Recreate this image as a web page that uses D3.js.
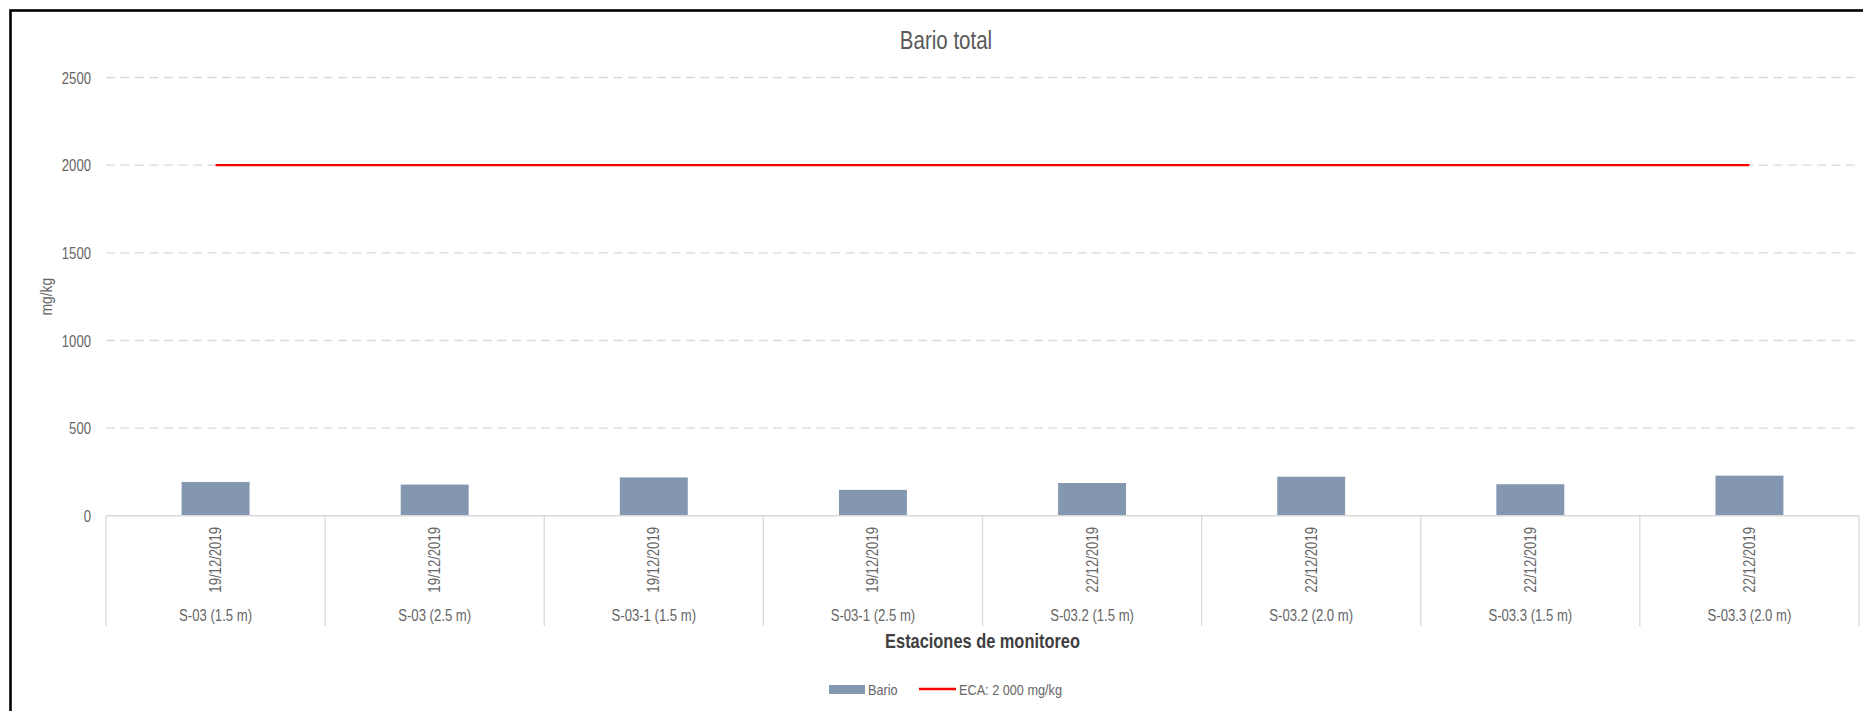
<!DOCTYPE html>
<html>
<head>
<meta charset="utf-8">
<script src="https://cdn.jsdelivr.net/npm/d3@7"></script>
<style>
  html, body { margin: 0; padding: 0; background: #fff; overflow: hidden; }
  svg { display: block; }
  text { font-family: "Liberation Sans", Arial, sans-serif; }
</style>
</head>
<body>
<svg id="chart" width="1863" height="711"></svg>
<script>
// Barium concentration per monitoring station
const stations = ["S-03 (1.5 m)", "S-03 (2.5 m)", "S-03-1 (1.5 m)", "S-03-1 (2.5 m)",
                  "S-03.2 (1.5 m)", "S-03.2 (2.0 m)", "S-03.3 (1.5 m)", "S-03.3 (2.0 m)"];
const dates = ["19/12/2019", "19/12/2019", "19/12/2019", "19/12/2019",
               "22/12/2019", "22/12/2019", "22/12/2019", "22/12/2019"];
const bario = [193, 178, 219, 148, 187, 223, 180, 229];
const eca = [2000, 2000, 2000, 2000, 2000, 2000, 2000, 2000];
const yTicks = [0, 500, 1000, 1500, 2000, 2500];

const svg = d3.select("#chart");
const plot = { left: 106, right: 1859, top: 77.5, bottom: 515.8 };
const NARROW = 0.82;          // condensed text width
const TEXT = "#666";

// outer frame (runs past the right and bottom edges)
svg.append("rect")
  .attr("x", 10.5).attr("y", 10.5)
  .attr("width", 1900).attr("height", 760)
  .attr("fill", "none").attr("stroke", "#000").attr("stroke-width", 2.6);

const x = d3.scaleBand().domain(stations).range([plot.left, plot.right]).padding(0);
const y = d3.scaleLinear().domain([0, 2500]).range([plot.bottom, plot.top]);

// condensed text helper
function label(parent, tx, ty, str, opts = {}) {
  const rot = opts.rotate ? ` rotate(${opts.rotate})` : "";
  return parent.append("text")
    .attr("transform", `translate(${tx},${ty})${rot} scale(${NARROW},1)`)
    .attr("text-anchor", opts.anchor || "start")
    .attr("fill", opts.fill || TEXT)
    .style("font-size", (opts.size || 16) + "px")
    .style("font-weight", opts.weight || "normal")
    .text(str);
}

// horizontal dashed gridlines
svg.append("g").selectAll("line")
  .data(yTicks.filter(d => d > 0))
  .join("line")
  .attr("x1", plot.left).attr("x2", plot.right)
  .attr("y1", d => y(d)).attr("y2", d => y(d))
  .attr("stroke", "#d9d9d9").attr("stroke-width", 1.3)
  .attr("stroke-dasharray", "9,5.5");

// value axis labels
const yAxis = d3.axisLeft(y).tickValues(yTicks).tickFormat(d3.format("d")).tickSize(0);
const gy = svg.append("g").attr("transform", `translate(${plot.left},0)`).call(yAxis);
gy.select(".domain").remove();
gy.selectAll(".tick text")
  .attr("x", null).attr("dy", "0.36em")
  .attr("transform", `translate(-15,0) scale(${NARROW},1)`)
  .attr("text-anchor", "end")
  .attr("fill", TEXT)
  .style("font-family", "'Liberation Sans', Arial, sans-serif")
  .style("font-size", "16px");

// bars
const barW = x.bandwidth() * 0.31;
svg.append("g").selectAll("rect")
  .data(bario)
  .join("rect")
  .attr("x", (d, i) => x(stations[i]) + (x.bandwidth() - barW) / 2)
  .attr("y", d => y(d))
  .attr("width", barW)
  .attr("height", d => y(0) - y(d))
  .attr("fill", "#8497b0");

// category axis: baseline, separators and two-level labels
const gx = svg.append("g");
gx.append("line")
  .attr("x1", plot.left).attr("x2", plot.right)
  .attr("y1", y(0)).attr("y2", y(0))
  .attr("stroke", "#d9d9d9").attr("stroke-width", 1.5);
const seps = stations.map(s => x(s)).concat([plot.right]);
gx.selectAll("line.sep")
  .data(seps)
  .join("line")
  .attr("class", "sep")
  .attr("x1", d => d).attr("x2", d => d)
  .attr("y1", y(0)).attr("y2", 626)
  .attr("stroke", "#d9d9d9").attr("stroke-width", 1.3);

dates.forEach((d, i) => {
  label(gx, x(stations[i]) + x.bandwidth() / 2 + 5.5, 527, d, { rotate: -90, anchor: "end" });
});
stations.forEach(s => {
  label(gx, x(s) + x.bandwidth() / 2, 621, s, { anchor: "middle" });
});

// ECA reference line
const line = d3.line()
  .x((d, i) => x(stations[i]) + x.bandwidth() / 2)
  .y(d => y(d));
svg.append("path")
  .datum(eca)
  .attr("d", line)
  .attr("fill", "none")
  .attr("stroke", "#ff0000")
  .attr("stroke-width", 2.3);

// titles
label(svg, 946, 49, "Bario total", { anchor: "middle", size: 25, fill: "#595959" });
label(svg, (plot.left + plot.right) / 2, 648, "Estaciones de monitoreo",
      { anchor: "middle", size: 20, weight: "bold", fill: "#404040" });
label(svg, 52, (plot.top + plot.bottom) / 2, "mg/kg", { rotate: -90, anchor: "middle", size: 17 });

// legend
const lg = svg.append("g");
lg.append("rect")
  .attr("x", 829).attr("y", 685).attr("width", 36).attr("height", 9)
  .attr("fill", "#8497b0");
label(lg, 868, 695, "Bario", { size: 15.5 });
lg.append("line")
  .attr("x1", 919).attr("x2", 956).attr("y1", 689).attr("y2", 689)
  .attr("stroke", "#ff0000").attr("stroke-width", 2.3);
label(lg, 959, 695, "ECA: 2 000 mg/kg", { size: 15.5 });
</script>
</body>
</html>
